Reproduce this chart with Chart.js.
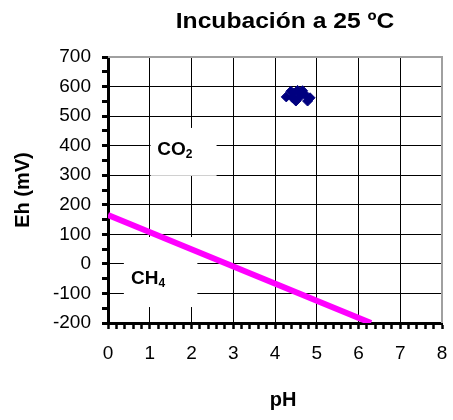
<!DOCTYPE html>
<html>
<head>
<meta charset="utf-8">
<script src="https://cdn.jsdelivr.net/npm/chart.js@4/dist/chart.umd.min.js"></script>
<style>
  html, body { margin: 0; padding: 0; background: #ffffff; }
  #wrap { width: 453px; height: 420px; }
</style>
</head>
<body>
<div id="wrap"><canvas id="c" width="453" height="420"></canvas></div>
<script>
// Texts
const chartTitle = 'Incubación a 25 ºC';
const xAxisTitle = 'pH';
const yAxisTitle = 'Eh (mV)';

// Measured samples (pH, Eh in mV)
const samplePH = [4.27, 4.38, 4.45, 4.54, 4.62, 4.66, 4.74, 4.84, 4.50, 4.78, 4.42, 4.60];
const sampleEh = [565, 584, 578, 587, 580, 586, 570, 562, 551, 551, 562, 566];

// CO2 / CH4 boundary line
const boundaryPH = [0, 6.3];
const boundaryEh = [165, -200];

// Axis ranges and tick steps
const xRange = [0, 8];
const yRange = [-200, 700];
const xMajorStep = 1, xMinorStep = 0.2;
const yMajorStep = 100, yMinorStep = 50;

const FONT = "'Liberation Sans', Arial, sans-serif";

const samplePoints = samplePH.map((p, i) => ({ x: p, y: sampleEh[i] }));
const boundaryPoints = boundaryPH.map((p, i) => ({ x: p, y: boundaryEh[i] }));

function isMajor(v, step) {
  const q = v / step;
  return Math.abs(q - Math.round(q)) < 1e-6;
}

// Region names, frame and titles drawn on the canvas
const decorations = {
  id: 'decorations',
  beforeDatasetsDraw(chart) {
    const { ctx, scales: { x, y } } = chart;
    ctx.save();
    // white label boxes over the grid
    ctx.fillStyle = '#ffffff';
    const boxes = [
      [1.02, 2.6, 460, 298],
      [0.38, 2.14, 91, -146]
    ];
    boxes.forEach(([p0, p1, e0, e1]) => {
      const l = x.getPixelForValue(p0), r = x.getPixelForValue(p1);
      const t = y.getPixelForValue(e0), b = y.getPixelForValue(e1);
      ctx.fillRect(l, t, r - l, b - t);
    });
    // labels with subscripts
    const labels = [
      ['CO', '2', 1.18, 392],
      ['CH', '4', 0.55, -44]
    ];
    ctx.fillStyle = '#000000';
    ctx.textBaseline = 'alphabetic';
    ctx.textAlign = 'left';
    labels.forEach(([main, sub, p, e]) => {
      const px = x.getPixelForValue(p), py = y.getPixelForValue(e) + 7;
      ctx.font = 'bold 19px ' + FONT;
      ctx.fillText(main, px, py);
      const w = ctx.measureText(main).width;
      ctx.font = 'bold 12px ' + FONT;
      ctx.fillText(sub, px + w, py + 3);
    });
    // grey frame on top and right of the plot area
    const a = chart.chartArea;
    ctx.strokeStyle = '#a0a0a0';
    ctx.lineWidth = 2;
    ctx.beginPath();
    ctx.moveTo(a.left, a.top);
    ctx.lineTo(a.right, a.top);
    ctx.lineTo(a.right, a.bottom);
    ctx.stroke();
    ctx.restore();
  },
  afterDraw(chart) {
    const { ctx } = chart;
    ctx.save();
    ctx.fillStyle = '#000000';
    ctx.textAlign = 'center';
    ctx.textBaseline = 'middle';
    ctx.translate(285, 22);
    ctx.scale(1.12, 1);
    ctx.font = 'bold 22px ' + FONT;
    ctx.fillText(chartTitle, 0, 0);
    ctx.restore();
    ctx.save();
    ctx.fillStyle = '#000000';
    ctx.textAlign = 'center';
    ctx.textBaseline = 'middle';
    ctx.font = 'bold 20px ' + FONT;
    ctx.fillText(xAxisTitle, 283, 400);
    ctx.restore();
  }
};

new Chart(document.getElementById('c'), {
  type: 'scatter',
  data: {
    datasets: [
      {
        label: 'Muestras',
        data: samplePoints,
        pointStyle: 'rectRot',
        pointRadius: 5,
        pointHoverRadius: 5,
        backgroundColor: '#000080',
        borderColor: '#000080',
        borderWidth: 1,
        order: 1
      },
      {
        label: 'CO2 / CH4',
        data: boundaryPoints,
        showLine: true,
        borderColor: '#ff00ff',
        borderWidth: 6,
        pointRadius: 0,
        borderCapStyle: 'butt',
        order: 2
      }
    ]
  },
  options: {
    responsive: false,
    animation: false,
    devicePixelRatio: 1,
    layout: { padding: { top: 57, right: 11, left: 0, bottom: 0 } },
    plugins: {
      legend: { display: false },
      tooltip: { enabled: false },
      title: { display: false }
    },
    scales: {
      x: {
        type: 'linear',
        min: xRange[0],
        max: xRange[1],
        afterFit(s) { s.height = 97; s.paddingLeft = 0; s.paddingRight = 0; },
        border: { display: true, color: '#000000', width: 3 },
        grid: {
          color: c => (isMajor(c.tick.value, xMajorStep) && c.tick.value > xRange[0] && c.tick.value < xRange[1]) ? '#000000' : 'rgba(0,0,0,0)',
          lineWidth: 1,
          drawTicks: true,
          tickLength: 6,
          tickColor: '#000000',
          tickWidth: 2.5
        },
        ticks: {
          stepSize: xMinorStep,
          autoSkip: false,
          maxRotation: 0,
          padding: 13,
          color: '#000000',
          font: { family: FONT, size: 19 },
          callback: v => isMajor(v, xMajorStep) ? String(Math.round(v)) : ''
        }
      },
      y: {
        type: 'linear',
        min: yRange[0],
        max: yRange[1],
        afterFit(s) { s.width = 108; s.paddingTop = 0; s.paddingBottom = 0; },
        border: { display: true, color: '#000000', width: 3 },
        grid: {
          color: c => (isMajor(c.tick.value, yMajorStep) && c.tick.value > yRange[0] && c.tick.value < yRange[1]) ? '#000000' : 'rgba(0,0,0,0)',
          lineWidth: 1,
          drawTicks: true,
          tickLength: 6,
          tickColor: '#000000',
          tickWidth: 3
        },
        ticks: {
          stepSize: yMinorStep,
          autoSkip: false,
          padding: 11,
          color: '#000000',
          font: { family: FONT, size: 19 },
          callback: v => isMajor(v, yMajorStep) ? String(Math.round(v)) : ''
        },
        title: {
          display: true,
          text: yAxisTitle,
          color: '#000000',
          font: { family: FONT, size: 20, weight: 'bold' },
          padding: { top: 11, bottom: 0 }
        }
      }
    }
  },
  plugins: [decorations]
});
</script>
</body>
</html>
